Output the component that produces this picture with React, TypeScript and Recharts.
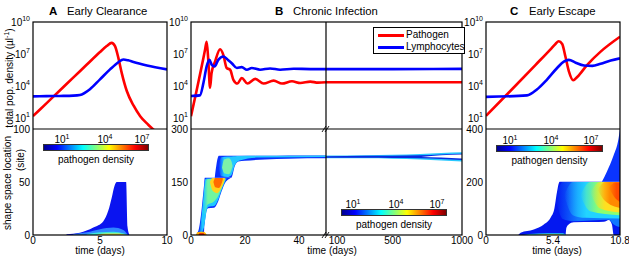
import React from 'react';
import { ComposedChart, Line, Area, XAxis, YAxis } from 'recharts';

const FONT = '"Liberation Sans", Arial, Helvetica, sans-serif';
const RED = '#ff0000';
const BLUE = '#0000ff';

// top row: total population density, stored as log10 (cells per µl)
// A - early clearance
const aPathT = [0, 1, 2, 3, 4, 5, 5.5, 5.87, 6.12, 6.37, 6.62, 7, 7.5, 8, 8.6, 9.2, 10];
const aPathLog = [1.2, 2.4, 3.6, 4.8, 6.0, 7.2, 7.75, 8.05, 7.75, 6.65, 5.25, 3.55, 2.2, 1.2, 0.4, -0.3, -1.5];
const aLymphT = [0, 1, 2, 3, 3.5, 4.25, 5, 5.75, 6.37, 6.74, 7.1, 7.5, 8.5, 10];
const aLymphLog = [3.05, 3.07, 3.09, 3.12, 3.18, 3.72, 4.64, 5.57, 6.24, 6.5, 6.42, 6.26, 5.94, 5.57];

// B - chronic infection, first 50 days
const bPathT = [0, 2, 4, 5.2, 5.8, 6.4, 7.05, 7.6, 8.9, 10.8, 12, 13.2, 14.5, 15.7, 17.2, 18.8, 20.9, 23.8, 26.9, 30.6, 33.7, 37.4, 40.5, 44.2, 47, 50];
const bPathLog = [1.2, 3.5, 5.9, 7.4, 8.15, 6.46, 3.85, 5.2, 6.3, 7.45, 6.9, 5.7, 5.54, 4.6, 4.25, 4.77, 4.25, 4.68, 4.25, 4.52, 4.25, 4.46, 4.3, 4.43, 4.33, 4.37];
const bLymphT = [0, 3.3, 4.6, 5.8, 6.8, 7.7, 8.7, 10.1, 12, 13.9, 15.1, 17, 18.8, 20.7, 22.5, 25.6, 29.3, 33, 38, 44.2, 50];
const bLymphLog = [3.08, 3.14, 4.3, 5.85, 6.46, 6.0, 5.85, 6.46, 6.77, 6.4, 6.15, 5.7, 5.78, 5.54, 5.7, 5.54, 5.66, 5.54, 5.63, 5.6, 5.6];
// B - late phase up to 1000 days
const bLateT = [20, 500, 1000];
const bLatePathLog = [4.37, 4.37, 4.37];
const bLateLymphLog = [5.6, 5.6, 5.62];

// C - early escape
const cPathT = [0, 2, 4, 5.2, 5.6, 5.86, 6.14, 6.4, 6.68, 7.03, 7.35, 8.16, 9.24, 10.8];
const cPathLog = [1.23, 3.6, 6.0, 7.45, 7.95, 8.2, 7.94, 6.77, 5.38, 4.55, 4.86, 6.0, 7.23, 8.62];
const cLymphT = [0, 3.3, 4.1, 4.9, 5.73, 6.27, 6.68, 7.22, 7.9, 8.57, 9.24, 10.05, 10.8];
const cLymphLog = [3.0, 3.14, 3.69, 4.6, 5.7, 6.3, 6.46, 6.2, 5.94, 5.9, 6.1, 6.4, 6.6];

const logTicks = [10, 1e4, 1e7, 1e10];

// bottom row: pathogen density in shape space, contour bands as [time, lowSite, highSite]
const aBlue = [[2.5, 0, 0.8], [3.5, 0, 2.2], [4.5, 0, 7], [5.25, 0, 13], [5.62, 0, 23], [5.87, 0, 35], [6.1, 0, 47], [6.25, 0, 50], [6.6, 0, 50], [6.95, 0, 50], [7.05, 0, 8], [7.2, 0, 0]];
const aLight = [[3, 0, 0.8], [4, 0, 2.5], [5, 0, 5.5], [6, 0, 7], [6.7, 0, 5], [7.1, 0, 0]];
const aCyan = [[4, 0, 0.8], [5, 0, 2.5], [6, 0, 3], [6.8, 0, 1.5], [7.05, 0, 0]];
const aYellow = [[4.8, 0, 0.3], [5.5, 0, 1.3], [6.3, 0, 1.3], [6.9, 0, 0]];

const bLower = [[2.0, 0, 2], [2.98, 0, 20], [3.85, 0, 67], [4.47, 0, 114], [4.8, 0, 139], [4.9, 20, 147], [5.1, 35, 162], [5.7, 67, 162], [6.3, 76, 162], [8.5, 77, 162], [10.05, 95, 162], [11.3, 123, 162], [12.5, 146, 162], [14.4, 160, 162], [14.9, 162, 162]];
const bLowerCyan = [[2.6, 0, 3], [3.2, 0, 15], [3.9, 5, 55], [4.5, 15, 100], [4.9, 25, 135], [5.3, 45, 158], [5.9, 72, 160], [6.5, 80, 160], [8.5, 82, 160], [10.05, 100, 160], [11.3, 127, 160], [12.5, 149, 160], [13, 158, 160], [13.3, 160, 160]];
const bLowerGreen = [[4.6, 60, 60], [5.2, 60, 140], [6, 85, 158], [8.5, 95, 160], [10, 110, 160], [11.5, 135, 160], [12.5, 155, 160], [12.8, 160, 160]];
const bLowerYellow = [[7, 150, 150], [8, 125, 161], [9.7, 118, 161], [11, 130, 161], [12.2, 150, 161], [12.6, 160, 160]];
const bLowerRed = [[8.3, 150, 150], [9, 135, 161], [10.3, 133, 161], [11.3, 145, 161], [11.8, 158, 160]];
const bBlob = [[1.9, 0, 0], [2.3, 0, 8], [4.5, 0, 9], [5.4, 0, 6], [5.8, 0, 0]];
const bBlobCore = [[2.8, 0, 0], [3.2, 0, 5], [4.6, 0, 5], [5.1, 0, 0]];
const bUpper = [[8.8, 162, 162], [10.3, 162, 224], [14.9, 162, 224], [16.3, 197, 224], [17.5, 208, 224], [20, 210, 224], [27.4, 214, 224], [36, 216, 225], [50, 217, 225]];
const bUpperCyan = [[10.2, 190, 190], [11.2, 166, 220], [13.5, 164, 222], [15, 170, 222.5], [16.3, 199, 223], [18, 211, 223.5], [25, 219, 224], [50, 221, 225]];
const bUpperGreen = [[11.5, 190, 190], [12.3, 175, 214], [14, 172, 217], [15, 185, 208], [15.4, 195, 195]];
const bLateBand = [[20, 217, 225], [300, 217, 226], [500, 216, 227], [700, 214, 229], [850, 211, 232], [1000, 208, 234]];
const bLateCore = [[20, 218.5, 223], [300, 218.5, 224], [500, 218, 224.5], [700, 217, 225.5], [850, 215, 228], [1000, 212, 230]];
const bLateGap = [[706, 221, 221], [850, 219, 226], [1000, 216.5, 227.5]];

const cMain = [[2.6, 0, 0], [2.79, 0, 8.6], [3.85, 0, 21], [4.66, 0, 40], [5.2, 0, 65], [5.52, 0, 102], [5.68, 0, 151], [5.94, 0, 201], [6.4, 0, 201], [6.48, 27, 201], [6.66, 40, 201], [7.07, 48, 201], [8.67, 49, 201], [9.5, 50, 201], [9.9, 57, 201], [10.15, 40, 201], [10.3, 0, 201], [10.8, 0, 201]];
const cWedge = [[9.34, 201, 201], [9.74, 201, 239], [10.28, 201, 300], [10.68, 201, 363], [10.8, 201, 400]];
const cLight = [[5.6, 140, 140], [6.2, 60, 200], [7, 52, 200], [9.9, 58, 200], [10.3, 40, 200], [10.8, 30, 200]];
const cCyan = [[6.3, 150, 150], [7.0, 75, 200], [8, 65, 200], [10.8, 62, 200]];
const cGreen = [[7.6, 150, 150], [8.4, 90, 200], [10.8, 75, 200]];
const cYellow = [[8.4, 160, 160], [9.2, 100, 200], [10.8, 85, 200]];
const cOrange = [[9.0, 170, 170], [9.6, 128, 200], [10.8, 102, 200]];
const cRed = [[9.9, 178, 178], [10.4, 140, 198], [10.8, 125, 198]];
const cStripCyan = [[3, 0, 0], [3.5, 0, 4], [5, 0, 7], [6.2, 0, 7], [6.45, 0, 0]];
const cStripYellow = [[4, 0, 0], [4.6, 0, 3], [5.8, 0, 3], [6.2, 0, 0]];

const toLine = (t: number[], logs: number[]) => t.map((x, i) => ({ t: x, v: Math.pow(10, logs[i]) }));
const toRange = (rows: number[][]) => rows.map(([t, lo, hi]) => ({ t, r: [lo, hi] }));

const curve = (t: number[], logs: number[], color: string, key: string) => (
  <Line key={key} data={toLine(t, logs)} dataKey="v" type="monotone" stroke={color} strokeWidth={2.6}
    dot={false} activeDot={false} isAnimationActive={false} />
);

const band = (rows: number[][], fill: string, key: string) => (
  <Area key={key} data={toRange(rows)} dataKey="r" type="monotone" stroke="none" fill={fill} fillOpacity={1}
    dot={false} activeDot={false} isAnimationActive={false} />
);

// colour fading in from the left edge of a band, so the contour layers blend
const fade = (id: string, color: string, full: number) => (
  <linearGradient key={id} id={id} x1="0" y1="0" x2="1" y2="0">
    <stop offset="0" stopColor={color} stopOpacity={0} />
    <stop offset={full} stopColor={color} stopOpacity={1} />
  </linearGradient>
);

function PowTick({ x, y, payload }: any) {
  const e = Math.round(Math.log10(payload.value));
  return (
    <text x={x} y={y} dy={4} textAnchor="end" fontSize={10} fontFamily={FONT} fill="#000">
      10<tspan dy={-5} fontSize={7}>{e}</tspan>
    </text>
  );
}

const tickStyle = { fontSize: 10, fill: '#000', fontFamily: FONT };

function Plot({ x, y, w, h, xDomain, xTicks, yDomain, yTicks, log, showX, showY, children }: any) {
  const ML = showY ? 34 : 0;
  const MT = 10, MR = 12;
  const XH = showX ? 22 : 0;
  return (
    <div style={{ position: 'absolute', left: x - ML, top: y - MT }}>
      <ComposedChart width={ML + w + MR} height={MT + h + XH} margin={{ top: MT, right: MR, bottom: 0, left: 0 }}>
        <XAxis dataKey="t" type="number" domain={xDomain} ticks={xTicks} allowDataOverflow hide={!showX}
          height={XH} axisLine={false} tickLine={false} tickSize={0} tickMargin={2} interval={0} tick={tickStyle} />
        <YAxis type="number" scale={log ? 'log' : 'linear'} domain={yDomain} ticks={yTicks} allowDataOverflow
          hide={!showY} width={ML} axisLine={false} tickLine={false} tickSize={0} tickMargin={3} interval={0}
          tick={log ? <PowTick /> : tickStyle} />
        {children}
      </ComposedChart>
    </div>
  );
}

const TOP = 22, MID = 129, BOT = 235;

function Txt({ x, y, children, size = 10, bold = false, rotate = false, align = 'center' }: any) {
  const tx = align === 'center' ? '-50%' : '0';
  return (
    <div style={{
      position: 'absolute', left: x, top: y, fontSize: size, fontWeight: bold ? 700 : 400, fontFamily: FONT,
      whiteSpace: 'nowrap', lineHeight: 1, color: '#000',
      transform: rotate ? 'translate(-50%, -50%) rotate(-90deg)' : `translate(${tx}, -50%)`,
    }}>{children}</div>
  );
}

const JET = 'linear-gradient(to right, #00008f 0%, #0000ff 12.5%, #00ffff 37.5%, #ffff00 62.5%, #ff0000 87.5%, #800000 100%)';

function ColorBar({ x, y, w, marks }: { x: number; y: number; w: number; marks: number[] }) {
  return (
    <>
      <div style={{ position: 'absolute', left: x, top: y, width: w, height: 7, background: JET, border: '1px solid #333', boxSizing: 'border-box' }} />
      {['1', '4', '7'].map((e, i) => (
        <Txt key={e} x={marks[i]} y={y - 5}>10<sup style={{ fontSize: 7 }}>{e}</sup></Txt>
      ))}
      <Txt x={x + w / 2} y={y + 16}>pathogen density</Txt>
    </>
  );
}

export default function App() {
  return (
    <div style={{ position: 'absolute', left: 0, top: 0, width: 629, height: 258, background: '#fff', overflow: 'hidden' }}>
      {/* A */}
      <Plot x={33} y={TOP} w={134} h={MID - TOP} xDomain={[0, 10]} yDomain={[1, 1e10]} yTicks={logTicks} log showY>
        {[curve(aPathT, aPathLog, RED, 'ap'), curve(aLymphT, aLymphLog, BLUE, 'al')]}
      </Plot>
      <Plot x={33} y={MID} w={134} h={BOT - MID} xDomain={[0, 10]} xTicks={[0, 5, 10]} yDomain={[0, 100]} yTicks={[0, 50, 100]} showX showY>
        {[band(aBlue, '#0a14f0', 'a1'), band(aLight, '#2f86ff', 'a2'), band(aCyan, '#3ee6d8', 'a3'), band(aYellow, '#f2e830', 'a4')]}
      </Plot>

      {/* B */}
      <Plot x={191} y={TOP} w={135} h={MID - TOP} xDomain={[0, 50]} yDomain={[1, 1e10]} yTicks={logTicks} log showY>
        {[curve(bPathT, bPathLog, RED, 'bp'), curve(bLymphT, bLymphLog, BLUE, 'bl')]}
      </Plot>
      <Plot x={326} y={TOP} w={136} h={MID - TOP} xDomain={[20, 1000]} yDomain={[1, 1e10]} yTicks={logTicks} log>
        {[curve(bLateT, bLatePathLog, RED, 'bp2'), curve(bLateT, bLateLymphLog, BLUE, 'bl2')]}
      </Plot>
      <Plot x={191} y={MID} w={135} h={BOT - MID} xDomain={[0, 50]} xTicks={[0, 20, 40]} yDomain={[0, 300]} yTicks={[0, 150, 300]} showX showY>
        {[
          <defs key="d">{[fade('gbCyan', '#1ec8ff', 0.15), fade('gbGreen', '#70f5a0', 0.2), fade('gbUp', '#22c8ff', 0.05)]}</defs>,
          band(bLower, '#0a30ff', 'b1'), band(bLowerCyan, 'url(#gbCyan)', 'b2'), band(bLowerGreen, 'url(#gbGreen)', 'b3'),
          band(bLowerYellow, '#ffd21a', 'b4'), band(bLowerRed, '#ff6a00', 'b5'),
          band(bBlob, '#ffb000', 'b6'), band(bBlobCore, '#e01000', 'b7'),
          band(bUpper, '#0a30ff', 'b8'), band(bUpperCyan, 'url(#gbUp)', 'b9'), band(bUpperGreen, '#7cf2a8', 'b10'),
        ]}
      </Plot>
      <Plot x={326} y={MID} w={136} h={BOT - MID} xDomain={[20, 1000]} xTicks={[100, 500, 1000]} yDomain={[0, 300]} showX>
        {[band(bLateBand, '#28c8ff', 'bl1'), band(bLateCore, '#0a28e0', 'bl2'), band(bLateGap, '#ffffff', 'bl3')]}
      </Plot>

      {/* C */}
      <Plot x={486} y={TOP} w={134} h={MID - TOP} xDomain={[0, 10.8]} yDomain={[1, 1e10]} yTicks={logTicks} log showY>
        {[curve(cPathT, cPathLog, RED, 'cp'), curve(cLymphT, cLymphLog, BLUE, 'cl')]}
      </Plot>
      <Plot x={486} y={MID} w={134} h={BOT - MID} xDomain={[0, 10.8]} xTicks={[0, 5.4, 10.8]} yDomain={[0, 400]} yTicks={[0, 200, 400]} showX showY>
        {[
          <defs key="d">{[
            fade('gcLight', '#1078ff', 0.35), fade('gcCyan', '#22d4ff', 0.4), fade('gcGreen', '#8cff70', 0.45),
            fade('gcYellow', '#ffe020', 0.5), fade('gcOrange', '#ff8a00', 0.55), fade('gcRed', '#ff4a00', 0.7),
          ]}</defs>,
          band(cMain, '#0418f0', 'c1'), band(cWedge, '#0a34ff', 'c2'), band(cLight, 'url(#gcLight)', 'c3'),
          band(cCyan, 'url(#gcCyan)', 'c4'), band(cGreen, 'url(#gcGreen)', 'c5'), band(cYellow, 'url(#gcYellow)', 'c6'),
          band(cOrange, 'url(#gcOrange)', 'c7'), band(cRed, 'url(#gcRed)', 'c8'),
          band(cStripCyan, '#30d8e8', 'c9'), band(cStripYellow, '#e8ec30', 'c10'),
        ]}
      </Plot>

      {/* frames and axis breaks */}
      <svg width={629} height={258} style={{ position: 'absolute', left: 0, top: 0, pointerEvents: 'none' }}>
        <g fill="none" stroke="#000" strokeWidth={1.2}>
          <rect x={33} y={TOP} width={134} height={BOT - TOP} />
          <line x1={33} y1={MID} x2={167} y2={MID} />
          <rect x={191} y={TOP} width={271} height={BOT - TOP} />
          <line x1={191} y1={MID} x2={462} y2={MID} />
          <line x1={326} y1={TOP} x2={326} y2={BOT} />
          <rect x={486} y={TOP} width={134} height={BOT - TOP} />
          <line x1={486} y1={MID} x2={620} y2={MID} />
        </g>
        <g stroke="#000" strokeWidth={0.9}>
          <line x1={322} y1={MID + 3} x2={326} y2={MID - 3} />
          <line x1={325} y1={MID + 3} x2={329} y2={MID - 3} />
          <line x1={322} y1={BOT + 3} x2={326} y2={BOT - 3} />
          <line x1={325} y1={BOT + 3} x2={329} y2={BOT - 3} />
        </g>
      </svg>

      {/* colour bars */}
      <ColorBar x={43} y={144} w={106} marks={[62, 105, 142]} />
      <ColorBar x={341} y={209} w={106} marks={[353, 396, 437]} />
      <ColorBar x={496} y={145} w={107} marks={[510, 551, 591]} />

      {/* legend */}
      <div style={{ position: 'absolute', left: 373, top: 27, width: 92, height: 27, border: '1px solid #000', boxSizing: 'border-box', background: '#fff', fontFamily: FONT, fontSize: 10 }}>
        <div style={{ position: 'absolute', left: 4, top: 6, width: 26, height: 3, background: RED }} />
        <div style={{ position: 'absolute', left: 32, top: 2, lineHeight: '10px' }}>Pathogen</div>
        <div style={{ position: 'absolute', left: 4, top: 18, width: 26, height: 3, background: BLUE }} />
        <div style={{ position: 'absolute', left: 32, top: 14, lineHeight: '10px' }}>Lymphocytes</div>
      </div>

      {/* titles */}
      <Txt x={49} y={12} size={11.5} bold align="left">A</Txt>
      <Txt x={67} y={12} size={11.3} align="left">Early Clearance</Txt>
      <Txt x={275} y={12} size={11.5} bold align="left">B</Txt>
      <Txt x={293} y={12} size={11.3} align="left">Chronic Infection</Txt>
      <Txt x={510} y={12} size={11.5} bold align="left">C</Txt>
      <Txt x={529} y={12} size={11.3} align="left">Early Escape</Txt>

      {/* axis titles */}
      <Txt x={9} y={78} rotate>total pop. density (µl<sup style={{ fontSize: 7 }}>-1</sup>)</Txt>
      <Txt x={8} y={183} rotate>shape space location</Txt>
      <Txt x={21} y={160} rotate>(site)</Txt>
      <Txt x={100} y={251}>time (days)</Txt>
      <Txt x={332} y={251}>time (days)</Txt>
      <Txt x={557} y={251}>time (days)</Txt>
    </div>
  );
}
